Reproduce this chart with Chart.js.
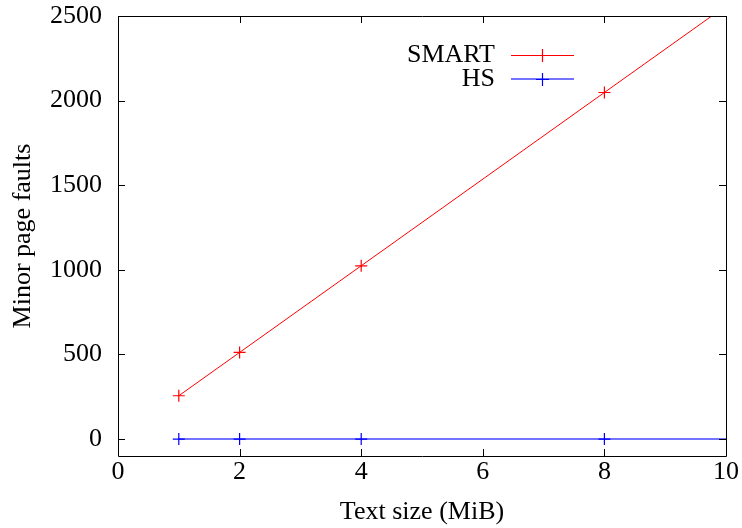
<!DOCTYPE html>
<html><head><meta charset="utf-8">
<script src="https://cdn.jsdelivr.net/npm/chart.js@4/dist/chart.umd.min.js"></script>
<style>html,body{margin:0;padding:0;background:#fff}#wrap{width:742px;height:528px}</style>
</head><body><div id="wrap"><canvas id="c" width="742" height="528"></canvas></div>
<script>
const sizes = [1, 2, 4, 8];
const smartFaults = [256, 512, 1024, 2048];
const hsFaults = [0, 0, 0, 0];
const fitX = [1, 10];
const smartFit = [256, 2560];
const hsFit = [0, 0];
const xTicks = [0, 2, 4, 6, 8, 10];
const yTicks = [0, 500, 1000, 1500, 2000, 2500];
const seriesNames = ['SMART', 'HS'];

const FONT = '"Liberation Serif", "DejaVu Serif", serif';
const FS = 26;
const RED = '#ff0000';
const BLUE = '#0000ff';
const BLUE_LINE = 'rgba(0,0,255,0.55)';

const pts = (xs, ys) => xs.map((x, i) => ({x, y: ys[i]}));

const frame = {
  id: 'frame',
  afterDatasetsDraw(chart) {
    const {ctx, chartArea: a, scales: {x, y}} = chart;
    ctx.save();
    ctx.strokeStyle = '#000';
    ctx.lineWidth = 1;
    ctx.beginPath();
    ctx.rect(Math.round(a.left) + 0.5, Math.round(a.top) + 0.5, Math.round(a.right - a.left), Math.round(a.bottom - a.top));
    ctx.stroke();
    const L = 7;
    ctx.beginPath();
    xTicks.forEach(v => {
      const px = Math.round(x.getPixelForValue(v)) + 0.5;
      ctx.moveTo(px, a.bottom); ctx.lineTo(px, a.bottom - L);
      ctx.moveTo(px, a.top); ctx.lineTo(px, a.top + L);
    });
    yTicks.forEach(v => {
      const py = Math.round(y.getPixelForValue(v)) + 0.5;
      ctx.moveTo(a.left, py); ctx.lineTo(a.left + L, py);
      ctx.moveTo(a.right, py); ctx.lineTo(a.right - L, py);
    });
    ctx.stroke();
    // legend
    const lineCols = [RED, BLUE_LINE];
    const lineW = [1, 2];
    const markCols = [RED, BLUE];
    const rows = [55, 79];
    ctx.font = FS + 'px ' + FONT;
    ctx.textAlign = 'right';
    ctx.textBaseline = 'alphabetic';
    seriesNames.forEach((n, i) => {
      ctx.fillStyle = '#000';
      ctx.fillText(n, 495, rows[i] + 7);
      ctx.strokeStyle = lineCols[i];
      ctx.lineWidth = lineW[i];
      ctx.beginPath();
      const yy = lineW[i] === 1 ? rows[i] + 0.5 : rows[i];
      ctx.moveTo(511, yy); ctx.lineTo(574, yy);
      ctx.stroke();
      ctx.strokeStyle = markCols[i];
      ctx.lineWidth = 1.2;
      ctx.beginPath();
      ctx.moveTo(542.5, rows[i] - 6); ctx.lineTo(542.5, rows[i] + 7);
      ctx.moveTo(536, rows[i] + 0.5); ctx.lineTo(549, rows[i] + 0.5);
      ctx.stroke();
    });
    ctx.restore();
  }
};

new Chart(document.getElementById('c'), {
  type: 'scatter',
  data: {
    datasets: [
      {label: seriesNames[0] + ' fit', data: pts(fitX, smartFit), showLine: true, borderColor: RED, borderWidth: 1, pointRadius: 0},
      {label: seriesNames[1] + ' fit', data: pts(fitX, hsFit), showLine: true, borderColor: BLUE_LINE, borderWidth: 2, pointRadius: 0},
      {label: seriesNames[0], data: pts(sizes, smartFaults), showLine: false, pointStyle: 'cross', pointRadius: 6, borderColor: RED, borderWidth: 1.2},
      {label: seriesNames[1], data: pts(sizes, hsFaults), showLine: false, pointStyle: 'cross', pointRadius: 6, borderColor: BLUE, borderWidth: 1.2}
    ]
  },
  options: {
    responsive: false,
    animation: false,
    events: [],
    layout: {padding: {top: 16, right: 16, left: 0, bottom: 0}},
    plugins: {legend: {display: false}, tooltip: {enabled: false}},
    scales: {
      x: {
        type: 'linear', min: 0, max: 10,
        afterBuildTicks: s => { s.ticks = xTicks.map(v => ({value: v})); },
        afterFit: s => { s.height = 72; s.paddingLeft = 0; s.paddingRight = 0; },
        grid: {display: false, drawTicks: false},
        border: {display: false},
        ticks: {color: '#000', font: {family: FONT, size: FS}, padding: 1, maxRotation: 0, callback: v => String(v)},
        title: {display: true, text: 'Text size (MiB)', color: '#000', font: {family: FONT, size: FS}, padding: {top: 4, bottom: 0}}
      },
      y: {
        type: 'linear', min: -100, max: 2500,
        afterBuildTicks: s => { s.ticks = yTicks.map(v => ({value: v})); },
        afterFit: s => { s.width = 118; s.paddingTop = 0; s.paddingBottom = 0; },
        grid: {display: false, drawTicks: false},
        border: {display: false},
        ticks: {color: '#000', font: {family: FONT, size: FS}, padding: 16, callback: v => String(v)},
        title: {display: true, text: 'Minor page faults', color: '#000', font: {family: FONT, size: FS}, padding: {top: 8, bottom: 0}}
      }
    }
  },
  plugins: [frame]
});
</script></body></html>
